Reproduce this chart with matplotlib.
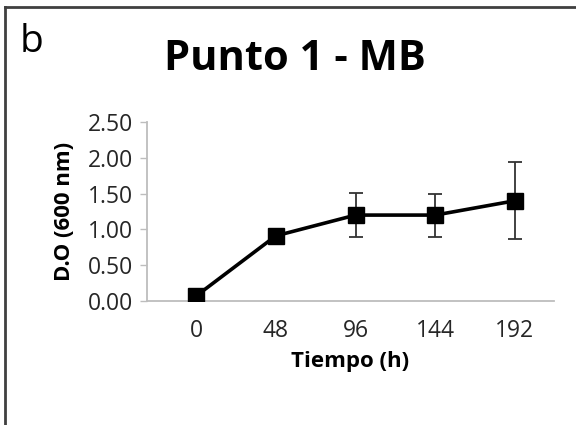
import matplotlib.pyplot as plt
from matplotlib.lines import Line2D

# data
tiempo = ['0', '48', '96', '144', '192']
od_600 = [0.07, 0.91, 1.20, 1.20, 1.40]
od_err = [0.0, 0.0, 0.31, 0.30, 0.54]
y_ticks = [0.0, 0.5, 1.0, 1.5, 2.0, 2.5]

plt.rcParams['font.family'] = ['Open Sans', 'DejaVu Sans']

fig = plt.figure(figsize=(5.76, 4.25), dpi=100)
ax = fig.add_axes([146.7 / 576, 1 - 301 / 425, (554 - 146.7) / 576, (301 - 122) / 425])

x = list(range(len(tiempo)))
ax.errorbar(x, od_600, yerr=od_err, color='black', linewidth=2.6,
            marker='s', markersize=11, ecolor='#333333', elinewidth=1.3,
            capsize=5, capthick=1.3, zorder=3)

ax.set_xlim(-0.62, 4.49)
ax.set_ylim(0, 2.5)
ax.set_xticks(x)
ax.set_xticklabels(tiempo)
ax.set_yticks(y_ticks)
ax.set_yticklabels([f'{v:.2f}' for v in y_ticks])

for side in ['top', 'right']:
    ax.spines[side].set_visible(False)
for side in ['left', 'bottom']:
    ax.spines[side].set_color('#bdbdbd')
    ax.spines[side].set_linewidth(1.3)

ax.tick_params(axis='y', length=5, width=1.0, color='#bdbdbd',
               labelsize=16.5, labelcolor='#262626', pad=5)
ax.tick_params(axis='x', length=0, labelsize=16.5, labelcolor='#262626', pad=13)

ax.set_xlabel('Tiempo (h)', fontsize=16, fontweight='bold', labelpad=6)
ax.set_ylabel('D.O (600 nm)', fontsize=16, fontweight='bold', labelpad=9)

fig.text(295 / 576, 1 - 60 / 425, 'Punto 1 - MB', fontsize=30, fontweight='bold',
         ha='center', va='center')
fig.text(20 / 576, 1 - 42 / 425, 'b', fontsize=28, ha='left', va='center')

# frame lines of the original panel (top and left only)
fig.add_artist(Line2D([5 / 576, 1], [1 - 7 / 425, 1 - 7 / 425], color='#404040', linewidth=2))
fig.add_artist(Line2D([5 / 576, 5 / 576], [0, 1 - 7 / 425], color='#404040', linewidth=2))

fig.savefig('out.png', dpi=100)
